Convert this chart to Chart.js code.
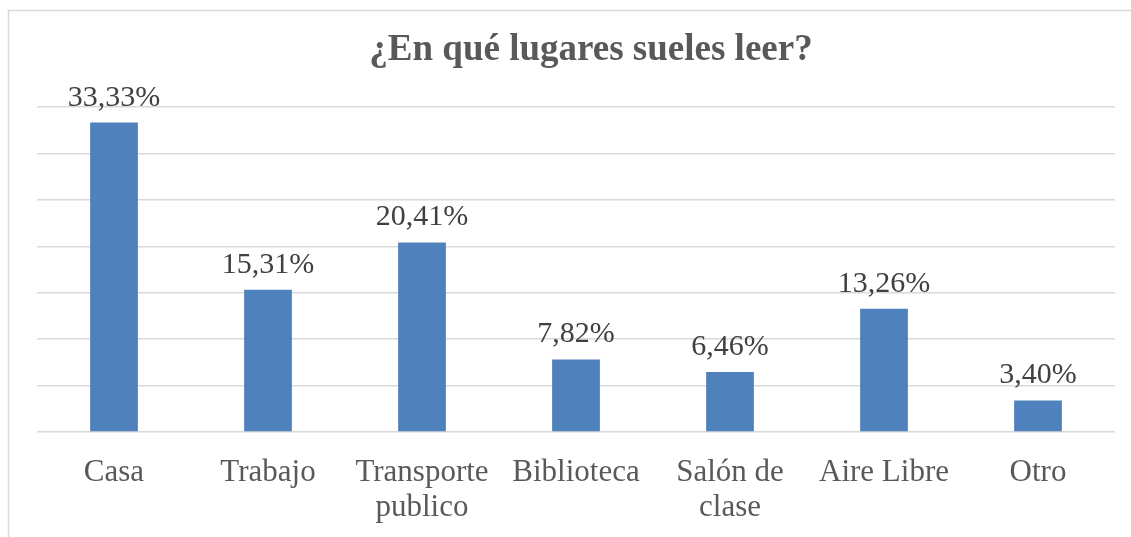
<!DOCTYPE html>
<html>
<head>
<meta charset="utf-8">
<script src="https://cdn.jsdelivr.net/npm/chart.js@4/dist/chart.umd.min.js"></script>
<style>
  html, body { margin: 0; padding: 0; background: #fff; }
  #wrap { position: relative; width: 1131px; height: 537px; }
</style>
</head>
<body>
<div id="wrap"><canvas id="chart" width="1131" height="537"></canvas></div>
<script>
// Chart data
const titleText = "¿En qué lugares sueles leer?";
const categories = ["Casa", "Trabajo", ["Transporte", "publico"], "Biblioteca", ["Salón de", "clase"], "Aire Libre", "Otro"];
const percentages = [33.33, 15.31, 20.41, 7.82, 6.46, 13.26, 3.40];

const serif = "'Liberation Serif', 'Times New Roman', serif";

// frame + title drawn on the canvas
const framePlugin = {
  id: "frame",
  beforeDraw(chart) {
    const ctx = chart.ctx;
    ctx.save();
    ctx.strokeStyle = "#d9d9d9";
    ctx.lineWidth = 1.5;
    ctx.beginPath();
    ctx.moveTo(8.5, 537);
    ctx.lineTo(8.5, 10.5);
    ctx.lineTo(1131, 10.5);
    ctx.stroke();

    ctx.fillStyle = "#595959";
    ctx.font = "bold 37px " + serif;
    ctx.textAlign = "center";
    ctx.textBaseline = "alphabetic";
    ctx.fillText(titleText, 591, 60);
    ctx.restore();
  }
};

// value labels above each bar
const valueLabels = {
  id: "valueLabels",
  afterDatasetsDraw(chart) {
    const ctx = chart.ctx;
    const meta = chart.getDatasetMeta(0);
    ctx.save();
    ctx.fillStyle = "#404040";
    ctx.font = "30px " + serif;
    ctx.textAlign = "center";
    ctx.textBaseline = "alphabetic";
    meta.data.forEach((bar, i) => {
      const txt = percentages[i].toFixed(2).replace(".", ",") + "%";
      ctx.fillText(txt, bar.x, bar.y - 17);
    });
    ctx.restore();
  }
};

new Chart(document.getElementById("chart"), {
  type: "bar",
  data: {
    labels: categories,
    datasets: [
      {
        data: percentages,
        backgroundColor: "#4f81bd",
        borderWidth: 0,
        barPercentage: 0.31,
        categoryPercentage: 1,
      },
    ],
  },
  options: {
    responsive: false,
    animation: false,
    layout: {
      padding: { left: 37, right: 16, top: 107, bottom: 0 },
    },
    plugins: {
      legend: { display: false },
      title: { display: false },
      tooltip: { enabled: false },
    },
    scales: {
      x: {
        grid: { display: false },
        border: { display: false },
        ticks: {
          color: "#595959",
          font: { family: serif, size: 31, lineHeight: 1.13 },
          padding: 15,
          maxRotation: 0,
          autoSkip: false,
        },
        afterFit(scale) {
          scale.height = 105;
        },
      },
      y: {
        min: 0,
        max: 35,
        ticks: { display: false, stepSize: 5 },
        grid: { color: "#d9d9d9", lineWidth: 1.5, drawTicks: false },
        border: { display: false },
        afterFit(scale) {
          scale.width = 0;
        },
      },
    },
  },
  plugins: [framePlugin, valueLabels],
});
</script>
</body>
</html>
